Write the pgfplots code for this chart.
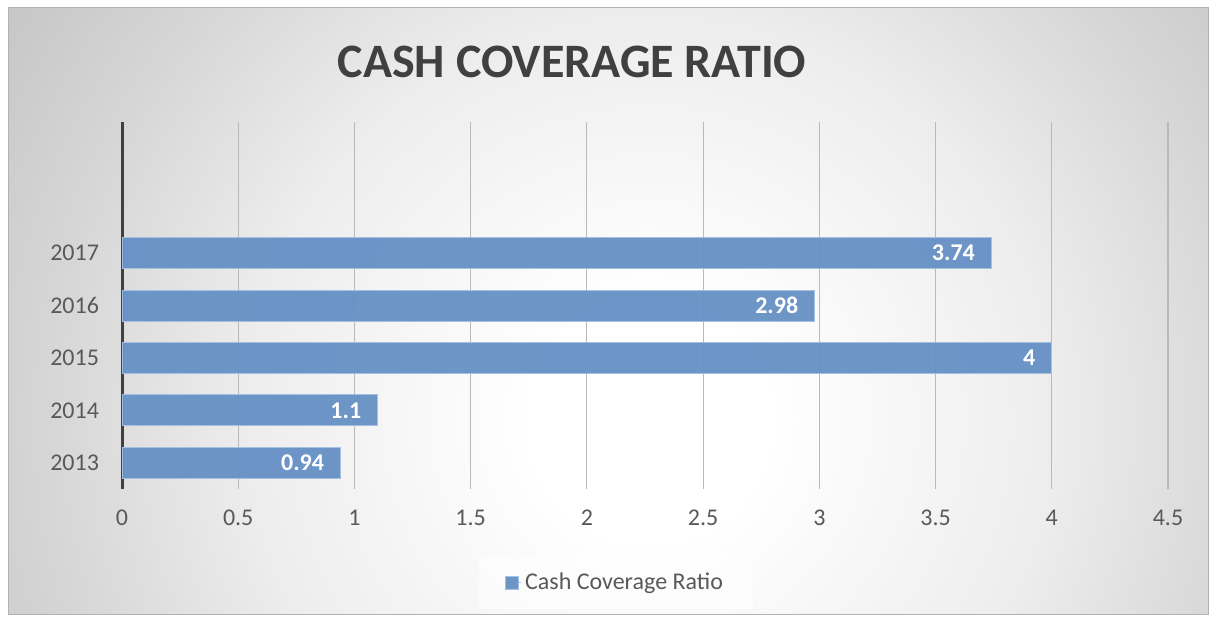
\documentclass[border=0pt]{standalone}
\usepackage{fontspec}
\setmainfont{Carlito}
\usepackage{pgfplots}
\pgfplotsset{compat=1.18}

\definecolor{barblue}{RGB}{102,144,196}
\definecolor{barborder}{RGB}{165,193,226}
\definecolor{tickgray}{RGB}{89,89,89}
\definecolor{titlegray}{RGB}{64,64,64}
\definecolor{axisdark}{RGB}{64,64,64}
\definecolor{gridgray}{RGB}{185,185,185}

% background glow, radii in real size (1px = 0.5pt)
\pgfdeclareradialshading{bgshade}{\pgfpoint{0bp}{0bp}}{%
  color(0bp)=(white); color(60bp)=(white); color(200bp)=(black!7);
  color(300bp)=(black!16); color(390bp)=(black!23)}

\begin{document}
\begin{tikzpicture}
  \fill[white] (0pt,0pt) rectangle (604.5pt,308.5pt);
  \begin{scope}
    \clip (4pt,1.5pt) rectangle (604pt,304.5pt);
    \node[inner sep=0pt] at (325pt,98.5pt) {\pgfuseshading{bgshade}};
  \end{scope}
  \draw[black!30, line width=0.5pt] (4pt,1.5pt) rectangle (604pt,304.5pt);

  \node[font=\fontsize{24}{29}\selectfont\bfseries, text=titlegray]
    at (286pt,277.5pt) {CASH COVERAGE RATIO};

  \begin{axis}[
    at={(61pt,64pt)}, anchor=south west,
    scale only axis,
    width=523pt, height=183.5pt,
    xbar,
    xmin=0, xmax=4.5,
    ymin=-0.5, ymax=6.5,
    xtick={0,0.5,...,4.5},
    ytick={0,1,2,3,4},
    yticklabels={2013,2014,2015,2016,2017},
    /pgf/number format/assume math mode=true,
    axis lines*=left,
    x axis line style={draw=none},
    y axis line style={draw=axisdark, line width=1.5pt},
    major tick length=0pt,
    xmajorgrids=true,
    grid style={gridgray, line width=0.6pt},
    ticklabel style={font=\fontsize{12}{14}\selectfont, text=tickgray},
    xticklabel style={yshift=-7pt},
    yticklabel style={xshift=-8pt},
    bar width=15.5pt,
    nodes near coords,
    every node near coord/.append style={anchor=east, xshift=-8pt,
      inner sep=0pt, font=\fontsize{12}{14}\selectfont\bfseries,
      text=white, text opacity=1},
    legend style={at={(0.4723,-0.256)}, anchor=center, draw=none,
      fill=white, fill opacity=0.5, text opacity=1,
      font=\fontsize{12}{14}\selectfont, text=tickgray,
      inner xsep=13pt, inner ysep=6pt},
    legend image code/.code={%
      \path (0pt,0pt) -- (7.5pt,0pt);
      \fill[barblue, draw=barborder, line width=0.4pt]
        (0pt,-3.25pt) rectangle (6.5pt,3.25pt);},
  ]
    \addplot[fill=barblue, draw=barborder, line width=0.5pt, fill opacity=0.95]
      coordinates {
        (0.94,0)
        (1.1,1)
        (4,2)
        (2.98,3)
        (3.74,4)
      };
    \legend{Cash Coverage Ratio}
  \end{axis}
\end{tikzpicture}
\end{document}
